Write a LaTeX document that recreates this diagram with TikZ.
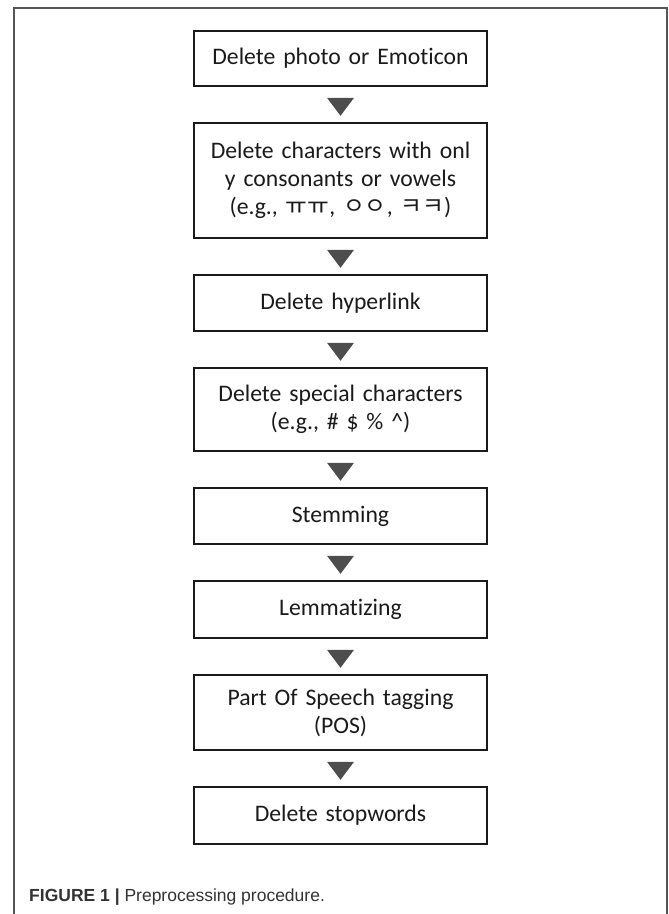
\documentclass[tikz,border=0pt]{standalone}
\usepackage{fontspec}
\setmainfont{Carlito}[Ligatures=NoCommon]
\newfontfamily\capfont{Liberation Sans}
\newfontfamily\krfont{Noto Sans CJK KR}
\usetikzlibrary{positioning, shapes.geometric}
\definecolor{framegray}{HTML}{555555}
\definecolor{trigray}{HTML}{4D4D4D}
\definecolor{boxline}{HTML}{1A1A1A}

\begin{document}
\begin{tikzpicture}[
		x=1pt, y=1pt,
		node distance=37pt,
		every node/.style={font=\fontsize{23.7}{28}\selectfont, text=boxline},
		stepbox/.style={draw=boxline, line width=2.4pt, rectangle, minimum width=293pt, minimum height=56pt, text width=285pt, align=center, inner xsep=4pt, inner ysep=0pt, outer sep=0pt},
		tri/.style={isosceles triangle, shape border rotate=-90, isosceles triangle stretches, minimum width=27pt, minimum height=18pt, inner sep=0pt, fill=trigray, draw=none},
		]
		\useasboundingbox (0,0) rectangle (669,-914);
		% outer frame
		\draw[framegray, line width=1.6pt] (14,-920) |- (667,-8) -- (667,-920);
		
		% preprocessing steps
		\node[stepbox, minimum height=55pt] at (340.5,-58.5) (photo) {Delete photo or Emoticon};
		\node[stepbox, below = of photo, minimum height=115pt] (jamo) {Delete characters with onl\\y consonants or vowels\\(e.g., {\krfont ㅠㅠ}, {\krfont ㅇㅇ}, {\krfont ㅋㅋ})};
		\node[stepbox, below = of jamo] (link) {Delete hyperlink};
		\node[stepbox, below = of link, minimum height=83pt] (special) {Delete special characters\\(e.g., \# \$ \% \^{})};
		\node[stepbox, below = of special] (stem) {Stemming};
		\node[stepbox, below = of stem, minimum height=57pt] (lemma) {Lemmatizing};
		\node[stepbox, below = of lemma, minimum height=75pt] (pos) {Part Of Speech tagging\\(POS)};
		\node[stepbox, below = of pos, minimum height=57pt] (stop) {Delete stopwords};
		
		% down triangles between the steps
		\path (photo) -- node[tri]{} (jamo);
		\path (jamo) -- node[tri]{} (link);
		\path (link) -- node[tri]{} (special);
		\path (special) -- node[tri]{} (stem);
		\path (stem) -- node[tri]{} (lemma);
		\path (lemma) -- node[tri]{} (pos);
		\path (pos) -- node[tri]{} (stop);
		
		% caption
		\node[anchor=base west, inner sep=0pt, font=\capfont\fontsize{17.5}{21}\selectfont, text=black!80] at (29,-901) (caption) {\textbf{FIGURE 1 |} Preprocessing procedure.};
	\end{tikzpicture}
\end{document}
